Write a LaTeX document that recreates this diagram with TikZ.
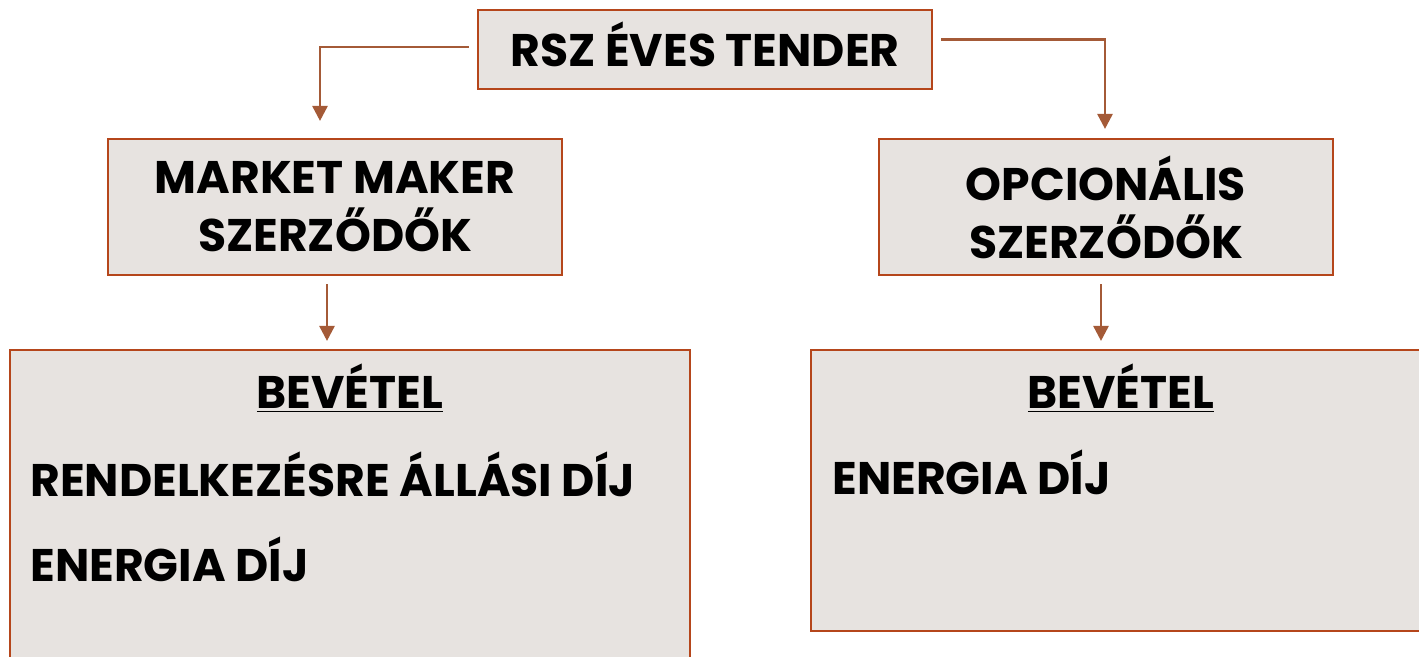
\documentclass[tikz,border=0pt]{standalone}
\usepackage{fontspec}
\setmainfont{Poppins}
\usetikzlibrary{arrows.meta}
\definecolor{rust}{HTML}{B5461B}
\definecolor{sienna}{HTML}{A45A37}
\definecolor{boxgray}{HTML}{E7E3E0}
\tikzstyle{box}=[draw=rust, line width=1.2pt, fill=boxgray, inner sep=0pt]
\tikzstyle{label}=[font=\bfseries\fontsize{26}{33}\selectfont, align=center, inner sep=0pt]
\tikzstyle{arr}=[draw=sienna, line width=1.5pt, -{Triangle[width=0.3cm,length=0.3cm]}]

\begin{document}
\begin{tikzpicture}
    \useasboundingbox (0,0) rectangle (28.38,-13.14);
    \clip (0,0) rectangle (28.38,-13.14);
    \node[box, minimum width=9.08cm, minimum height=1.58cm] (tender) at (14.1,-0.99) {};
    \node[box, minimum width=9.08cm, minimum height=2.72cm] (mm) at (6.7,-4.14) {};
    \node[box, minimum width=9.08cm, minimum height=2.72cm] (opt) at (22.12,-4.14) {};
    \node[box, minimum width=13.6cm, minimum height=6.6cm] (mmrev) at (7.0,-10.3) {};
    \node[box, minimum width=12.58cm, minimum height=5.62cm] (optrev) at (22.51,-9.81) {};
    % texts
    \node[label] (tendertext) at (14.1,-0.88) {RSZ ÉVES TENDER};
    \node[label] (mmtext) at (6.7,-4.14) {MARKET MAKER\\SZERZŐDŐK};
    \node[label] (opttext) at (22.12,-4.14) {OPCIONÁLIS\\SZERZŐDŐK};
    % bevetel
    \node[label] (mmtitle) at (7.0,-7.76) {\underline{BEVÉTEL}};
    \node[label, anchor=west] (mmfee) at (0.6,-9.48) {RENDELKEZÉSRE ÁLLÁSI DÍJ};
    \node[label, anchor=west] (mmenergy) at (0.6,-11.18) {ENERGIA DÍJ};
    \node[label] (opttitle) at (22.42,-7.76) {\underline{BEVÉTEL}};
    \node[label, anchor=west] (optenergy) at (16.64,-9.44) {ENERGIA DÍJ};
    % arrows
    \draw[arr] ([xshift=-0.16cm,yshift=0.05cm]tender.west) -| ([xshift=-0.3cm,yshift=0.34cm]mm.north);
    \draw[arr] ([xshift=0.16cm,yshift=0.2cm]tender.east) -| ([xshift=-0.02cm,yshift=0.18cm]opt.north);
    \draw[arr, shorten <=0.16cm, shorten >=0.16cm] ([xshift=-0.16cm]mm.south) -- ([xshift=-0.16cm]mm.south |- mmrev.north);
    \draw[arr, shorten <=0.16cm, shorten >=0.16cm] ([xshift=-0.1cm]opt.south) -- ([xshift=-0.1cm]opt.south |- optrev.north);
\end{tikzpicture}
\end{document}
